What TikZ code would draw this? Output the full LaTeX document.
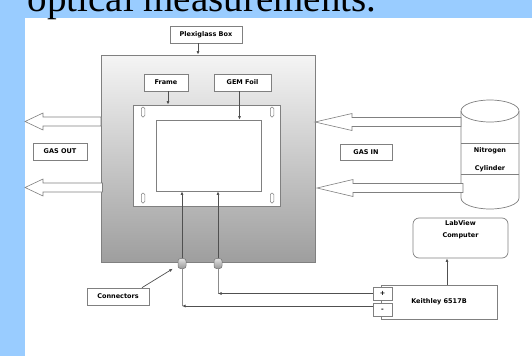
\documentclass[tikz,border=0pt]{standalone}
\usepackage{fontspec}
\usepackage{tikz}
\usepackage{xcolor}
\usetikzlibrary{arrows.meta,calc}

\newfontfamily\slidefont{Liberation Serif}
\newfontfamily\boxfont{DejaVu Sans}
\newcommand{\lblfont}{\boxfont\bfseries\fontsize{6.5}{8}\selectfont}
\definecolor{slideblue}{HTML}{99CCFF}
\definecolor{edgegray}{HTML}{808080}
\definecolor{wiregray}{HTML}{505050}

\tikzset{
    lbl/.style={draw=edgegray, fill=white, font=\lblfont, inner sep=0pt, line width=0.7pt},
    wire/.style={wiregray, line width=0.7pt, -{Latex[length=3.5pt,width=3pt]}},
    lead/.style={black!45, line width=0.7pt},
    holder/.style={draw=edgegray, fill=white, rounded corners=1.5pt, minimum width=3.5pt, minimum height=10pt, inner sep=0pt, line width=0.5pt},
    conn/.style={draw=black!55, top color=black!12, bottom color=black!40, rounded corners=2.5pt, minimum width=8pt, minimum height=10pt, inner sep=0pt, line width=0.5pt},
    gasflow/.style={draw=edgegray, fill=white, line width=0.6pt, line join=miter},
}

\begin{document}
\begin{tikzpicture}[x=1pt,y=-1pt]
    \useasboundingbox (0,0) rectangle (532,356);
    \clip (0,0) rectangle (532,356);
    % slide
    \fill[slideblue] (0,0) rectangle (532,356);
    \fill[white] (25,18) rectangle (532,356);
    \node[anchor=base west, inner sep=0pt, font={\slidefont\fontsize{39}{40}\selectfont}] (title) at (27.5,11.5) {optical measurements.};

    % Plexiglass box
    \node[draw=edgegray, line width=0.7pt, top color=white!96!black, bottom color=black!38, minimum width=214pt, minimum height=207pt] (box) at (208,158.5) {};
    \node[lbl, minimum width=72pt, minimum height=17pt] (plexi) at (206,34.5) {Plexiglass Box};
    \draw[wire] ([xshift=-8pt]plexi.south) -- ([xshift=-8pt]plexi.south |- box.north);

    % Frame and GEM foil
    \node[draw=edgegray, fill=white, line width=0.7pt, minimum width=147pt, minimum height=101pt] (frame) at (206.5,155.5) {};
    \node[draw=edgegray, fill=white, line width=0.7pt, minimum width=105pt, minimum height=71pt] (foil) at (208.5,155.5) {};
    \foreach \hx/\hy in {143/112,272/112,143/198,272/198}
        \node[holder] (h\hx\hy) at (\hx,\hy) {};
    \node[lbl, minimum width=44pt, minimum height=17pt] (framelbl) at (166,82.5) {Frame};
    \node[lbl, minimum width=57pt, minimum height=17pt] (foillbl) at (242.5,82.5) {GEM Foil};
    \draw[wire] ([xshift=2pt]framelbl.south) -- ([xshift=2pt]framelbl.south |- frame.north);
    \draw[wire] ([xshift=-3pt]foillbl.south) -- ([xshift=-3pt]foillbl.south |- foil.north);

    % Connectors
    \node[conn] (conL) at (182,263.5) {};
    \node[conn] (conR) at (218,263.5) {};
    \draw[wire] (conL.north) -- (conL.north |- foil.south);
    \draw[wire] (conR.north) -- (conR.north |- foil.south);
    \node[lbl, minimum width=62pt, minimum height=17pt] (connlbl) at (118,296.5) {Connectors};
    \draw[wire] ([xshift=24pt]connlbl.north) -- ([xshift=-5pt]conL.south west);

    % Nitrogen cylinder
    \filldraw[edgegray, fill=white, line width=0.7pt] (461,111) -- (461,198) arc[start angle=180, end angle=360, x radius=29pt, y radius=11pt] -- (519,111);
    \draw[edgegray, line width=0.7pt] (490,111) ellipse [x radius=29pt, y radius=11pt];
    \draw[edgegray, line width=0.7pt] (461,143) -- (519,143);
    \draw[edgegray, line width=0.7pt] (461,174) -- (519,174);
    \node[font=\lblfont, align=center, inner sep=0pt] (cyl) at (490,160) {Nitrogen\\[10pt]Cylinder};

    % Gas flow
    \draw[gasflow] (461,117.5) -- (352,117.5) -- (352,113.5) -- (315,122) -- (352,130.5) -- (352,126.5) -- (461,126.5) -- cycle;
    \draw[gasflow] (463,183.5) -- (353,183.5) -- (353,179.5) -- (317,188) -- (353,196.5) -- (353,192.5) -- (463,192.5) -- cycle;
    \draw[gasflow] (101,117) -- (43,117) -- (43,113) -- (25,121.5) -- (43,130) -- (43,126) -- (101,126) -- cycle;
    \draw[gasflow] (102.5,183) -- (43,183) -- (43,179) -- (25,187.5) -- (43,196) -- (43,192) -- (102.5,192) -- cycle;
    \node[lbl, minimum width=52pt, minimum height=16pt] (gasin) at (366,152) {GAS IN};
    \node[lbl, minimum width=54pt, minimum height=17pt] (gasout) at (60,151.5) {GAS OUT};

    % Keithley and computer
    \node[lbl, rounded corners=6pt, minimum width=95pt, minimum height=40pt,
          label={[font=\lblfont, align=center, anchor=north, inner sep=3pt]north:{LabView\\[4pt]Computer}}] (labview) at (460.5,238) {};
    \node[lbl, minimum width=116pt, minimum height=34pt] (keithley) at (439,302) {Keithley 6517B};
    \node[lbl, minimum width=19pt, minimum height=13pt] (plus) at (382.5,293.5) {+};
    \node[lbl, minimum width=19pt, minimum height=13pt] (minus) at (382.5,310) {-};
    \draw[wire] ([xshift=8pt]keithley.north) -- ([xshift=8pt]keithley.north |- labview.south);
    \draw[lead] (conR.south) -- (plus.west -| conR);
    \draw[wire] (plus.west) -- (plus.west -| conR);
    \draw[lead] (conL.south) -- ([yshift=4pt]minus.west -| conL);
    \draw[wire] ([yshift=4pt]minus.west) -- ([yshift=4pt]minus.west -| conL);
\end{tikzpicture}
\end{document}
